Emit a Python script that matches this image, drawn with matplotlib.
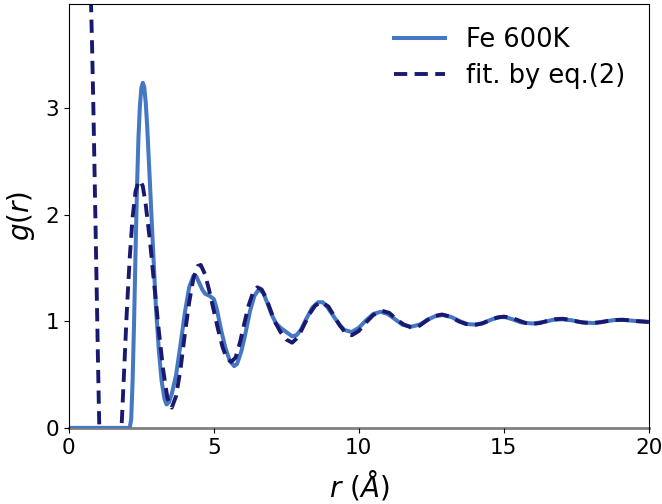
import matplotlib
matplotlib.use("Agg")
import matplotlib.pyplot as plt

# g(r) of Fe at 600K
r_md = [0.0, 1.0, 2.10, 2.15, 2.20, 2.25, 2.30, 2.35, 2.40, 2.45, 2.50, 2.55, 2.60, 2.65, 2.70,
        2.80, 2.90, 3.00, 3.10, 3.20, 3.30, 3.37, 3.45, 3.55, 3.70, 3.85, 4.00, 4.15, 4.30,
        4.40, 4.50, 4.60, 4.70, 4.85, 5.00, 5.10, 5.25, 5.40, 5.55, 5.70, 5.80, 5.95, 6.10,
        6.25, 6.40, 6.55, 6.70, 6.85, 7.00, 7.15, 7.30, 7.50, 7.70, 7.85, 8.00, 8.20, 8.40,
        8.60, 8.75, 8.90, 9.10, 9.30, 9.50, 9.75, 10.0, 10.25, 10.5, 10.75, 11.0, 11.25,
        11.5, 11.8, 12.1, 12.4, 12.65, 12.9, 13.2, 13.5, 13.75, 14.0, 14.3, 14.6, 14.85,
        15.05, 15.3, 15.6, 16.0, 16.4, 16.7, 17.0, 17.35, 17.7, 18.1, 18.5, 18.8, 19.1,
        19.5, 20.0]
g_md = [0.0, 0.0, 0.0, 0.08, 0.45, 1.0, 1.65, 2.25, 2.72, 3.02, 3.19, 3.24, 3.2, 3.06, 2.84,
        2.28, 1.7, 1.15, 0.74, 0.44, 0.27, 0.22, 0.24, 0.32, 0.5, 0.78, 1.08, 1.32, 1.43,
        1.42, 1.36, 1.30, 1.26, 1.24, 1.21, 1.12, 0.92, 0.75, 0.63, 0.58, 0.6, 0.72, 0.9,
        1.1, 1.24, 1.3, 1.27, 1.17, 1.06, 0.98, 0.94, 0.9, 0.86, 0.87, 0.92, 1.03, 1.13,
        1.18, 1.18, 1.14, 1.06, 0.98, 0.92, 0.9, 0.94, 1.01, 1.07, 1.09, 1.07, 1.02,
        0.97, 0.95, 0.97, 1.02, 1.05, 1.06, 1.04, 1.0, 0.975, 0.97, 0.985, 1.02, 1.04,
        1.04, 1.02, 0.99, 0.98, 0.995, 1.015, 1.02, 1.01, 0.99, 0.985, 1.0, 1.012, 1.015,
        1.005, 0.995]

# fit by eq.(2)
r_fit = [0.70, 0.75, 0.80, 0.85, 0.90, 0.95, 1.00, 1.05, 1.15, 1.40, 1.65, 1.80, 1.90,
         2.00, 2.10, 2.20, 2.30, 2.40, 2.47, 2.55, 2.65, 2.80, 2.95, 3.10, 3.25, 3.40,
         3.55, 3.70, 3.85, 4.00, 4.15, 4.30, 4.45, 4.55, 4.70, 4.85, 5.00, 5.15, 5.30,
         5.45, 5.60, 5.75, 5.90, 6.05, 6.20, 6.35, 6.50, 6.65, 6.80, 6.95, 7.10, 7.30,
         7.50, 7.70, 7.90, 8.10, 8.30, 8.50, 8.72, 8.95, 9.15, 9.35, 9.55, 9.76, 10.0,
         10.25, 10.5, 10.8, 11.05, 11.3, 11.55, 11.84, 12.1, 12.35, 12.6, 12.87, 13.15,
         13.45, 13.7, 13.97, 14.25, 14.5, 14.75, 15.0, 15.25, 15.5, 15.75, 15.98, 16.25,
         16.5, 16.75, 17.02, 17.3, 17.55, 17.8, 18.1, 18.35, 18.6, 18.85, 19.09, 19.35,
         19.6, 20.0]
g_fit = [4.6, 4.15, 3.6, 2.95, 2.2, 1.45, 0.7, 0.0, -0.6, -0.9, -0.6, -0.1, 0.5,
         1.1, 1.6, 1.98, 2.22, 2.31, 2.32, 2.27, 2.1, 1.75, 1.33, 0.92, 0.55, 0.28,
         0.19, 0.3, 0.55, 0.88, 1.18, 1.41, 1.52, 1.53, 1.44, 1.28, 1.1, 0.92, 0.76,
         0.65, 0.62, 0.66, 0.8, 0.98, 1.15, 1.27, 1.32, 1.3, 1.22, 1.11, 1.0, 0.9,
         0.83, 0.8, 0.85, 0.96, 1.07, 1.15, 1.18, 1.14, 1.05, 0.96, 0.89, 0.87, 0.91,
         0.99, 1.06, 1.1, 1.08, 1.02, 0.97, 0.94, 0.96, 1.01, 1.05, 1.065, 1.045,
         1.0, 0.975, 0.965, 0.98, 1.01, 1.035, 1.045, 1.035, 1.01, 0.985, 0.975, 0.985,
         1.005, 1.02, 1.025, 1.015, 0.998, 0.988, 0.985, 0.992, 1.005, 1.013, 1.015, 1.01,
         1.002, 0.995]

fig = plt.figure(figsize=(6.62, 5.04), dpi=100)
ax = fig.add_axes([0.104, 0.151, 0.876, 0.841])

ax.plot(r_md, g_md, color='#4677c2', lw=2.9, label='Fe 600K')
ax.plot(r_fit, g_fit, color='#191970', lw=2.8, ls='--', dashes=(3.4, 1.9),
        label='fit. by eq.(2)')

ax.set_xlim(0, 20)
ax.set_ylim(0, 3.98)
ax.set_xticks([0, 5, 10, 15, 20])
ax.set_yticks([0, 1, 2, 3])
ax.tick_params(labelsize=15.5)
ax.spines['bottom'].set_color('grey')
ax.spines['bottom'].set_linewidth(2)
ax.spines['bottom'].set_zorder(0)

ax.set_xlabel(r'$r\ (Å)$', fontsize=20, labelpad=8)
ax.set_ylabel(r'$g(r)$', fontsize=20, labelpad=6)
ax.legend(loc='upper right', frameon=False, fontsize=18.5,
          bbox_to_anchor=(0.999, 1.0), labelspacing=0.4)

fig.savefig('out.png', dpi=100)
